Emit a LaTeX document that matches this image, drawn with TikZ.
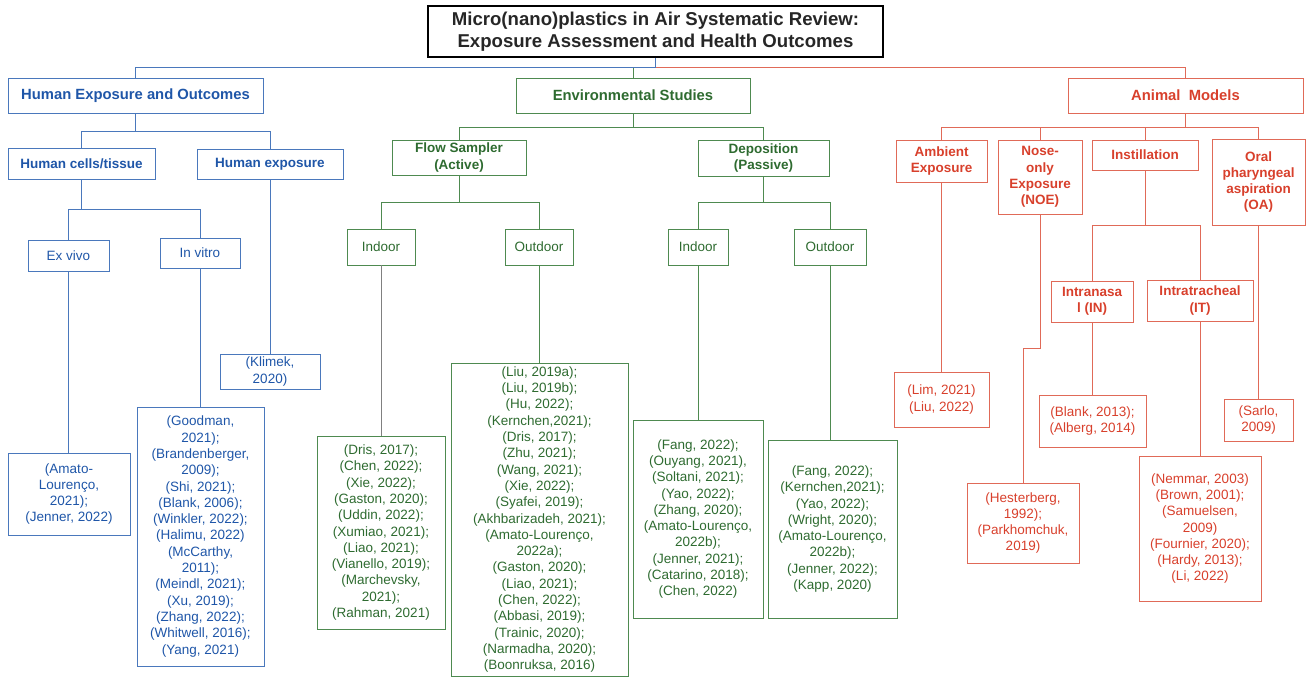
\documentclass[tikz,border=0pt]{standalone}
\usepackage{fontspec}
\setmainfont{Liberation Sans}
\usetikzlibrary{calc}
\definecolor{btxt}{HTML}{1F56A8}
\definecolor{bln}{HTML}{4A78BC}
\definecolor{gtxt}{HTML}{2E6B30}
\definecolor{gln}{HTML}{4E8A50}
\definecolor{rtxt}{HTML}{D8402C}
\definecolor{rln}{HTML}{E06A58}
\newcommand\bx[7]{\node[#1, minimum width={(#5-#3)*1pt}, minimum height={(#6-#4)*1pt}] (#2) at ({(#3+#5)/2},{(#4+#6)/2}) {#7};}
\tikzset{
  box/.style={draw, rectangle, inner sep=0pt, align=center, line width=0.8pt},
  fL/.style={font=\bfseries\fontsize{14.8}{17}\selectfont},
  fM/.style={font=\bfseries\fontsize{13.5}{16.3}\selectfont},
  fR/.style={font=\fontsize{13.5}{16.3}\selectfont},
  fS/.style={font=\fontsize{13.5}{16.3}\selectfont},
  bbox/.style={box, draw=bln, text=btxt},
  gbox/.style={box, draw=gln, text=gtxt},
  rbox/.style={box, draw=rln, text=rtxt},
  bline/.style={draw=bln, line width=0.8pt},
  gline/.style={draw=gln, line width=0.8pt},
  rline/.style={draw=rln, line width=0.8pt},
}
\begin{document}
\begin{tikzpicture}[x=1pt,y=-1pt]
\useasboundingbox (0,0) rectangle (1306,680);
% title
\bx{box, draw=black, line width=1.6pt, font=\bfseries\fontsize{18.6}{22}\selectfont, text=black!85}{title}{428}{6}{883}{57}{Micro(nano)plastics in Air Systematic Review:\\Exposure Assessment and Health Outcomes}
% level 1
\bx{bbox, fL}{heo}{8}{78}{263}{113}{Human Exposure and Outcomes}
\bx{gbox, fL}{env}{516}{78}{750}{113}{Environmental Studies}
\bx{rbox, fL}{am}{1068}{78}{1303}{113}{Animal \ Models}
% blue
\bx{bbox, fM}{hct}{8}{148}{155}{179}{Human cells/tissue}
\bx{bbox, fM}{hex}{197}{149}{343}{179}{Human exposure}
\bx{bbox, fS}{exv}{28}{240}{109}{271}{Ex vivo}
\bx{bbox, fS}{inv}{160}{238}{240}{268}{In vitro}
\bx{bbox, fR}{klimek}{220}{354}{320}{389}{(Klimek,\\2020)}
\bx{bbox, fR}{amato}{8}{453}{130}{535}{(Amato-\\Lourenço,\\2021);\\(Jenner, 2022)}
\bx{bbox, fR}{invr}{137}{407}{264}{666}{(Goodman,\\2021);\\(Brandenberger,\\2009);\\(Shi, 2021);\\(Blank, 2006);\\(Winkler, 2022);\\(Halimu, 2022)\\(McCarthy,\\2011);\\(Meindl, 2021);\\(Xu, 2019);\\(Zhang, 2022);\\(Whitwell, 2016);\\(Yang, 2021)}
% green
\bx{gbox, fM}{flow}{392}{140}{526}{175}{Flow Sampler\\(Active)}
\bx{gbox, fM}{dep}{698}{140}{829}{176}{Deposition\\(Passive)}
\bx{gbox, fS}{in1}{347}{229}{415}{265}{Indoor}
\bx{gbox, fS}{out1}{505}{229}{573}{265}{Outdoor}
\bx{gbox, fS}{in2}{668}{229}{728}{265}{Indoor}
\bx{gbox, fS}{out2}{794}{229}{866}{265}{Outdoor}
\bx{gbox, fR}{in1r}{317}{436}{445}{629}{(Dris, 2017);\\(Chen, 2022);\\(Xie, 2022);\\(Gaston, 2020);\\(Uddin, 2022);\\(Xumiao, 2021);\\(Liao, 2021);\\(Vianello, 2019);\\(Marchevsky,\\2021);\\(Rahman, 2021)}
\bx{gbox, fR}{out1r}{451}{363}{628}{676}{(Liu, 2019a);\\(Liu, 2019b);\\(Hu, 2022);\\(Kernchen,2021);\\(Dris, 2017);\\(Zhu, 2021);\\(Wang, 2021);\\(Xie, 2022);\\(Syafei, 2019);\\(Akhbarizadeh, 2021);\\(Amato-Lourenço,\\2022a);\\(Gaston, 2020);\\(Liao, 2021);\\(Chen, 2022);\\(Abbasi, 2019);\\(Trainic, 2020);\\(Narmadha, 2020);\\(Boonruksa, 2016)}
\bx{gbox, fR}{in2r}{633}{420}{763}{618}{(Fang, 2022);\\(Ouyang, 2021),\\(Soltani, 2021);\\(Yao, 2022);\\(Zhang, 2020);\\(Amato-Lourenço,\\2022b);\\(Jenner, 2021);\\(Catarino, 2018);\\(Chen, 2022)}
\bx{gbox, fR}{out2r}{768}{440}{897}{618}{(Fang, 2022);\\(Kernchen,2021);\\(Yao, 2022);\\(Wright, 2020);\\(Amato-Lourenço,\\2022b);\\(Jenner, 2022);\\(Kapp, 2020)}
% red
\bx{rbox, fM}{amb}{896}{140}{987}{182}{Ambient\\Exposure}
\bx{rbox, fM}{noe}{998}{140}{1082}{214}{Nose-\\only\\Exposure\\(NOE)}
\bx{rbox, fM}{inst}{1092}{140}{1198}{170}{Instillation}
\bx{rbox, fM}{oa}{1212}{139}{1305}{225}{Oral\\pharyngeal\\aspiration\\(OA)}
\bx{rbox, fM}{inn}{1051}{281}{1133}{322}{Intranasa\\l (IN)}
\bx{rbox, fM}{itr}{1147}{280}{1253}{321}{Intratracheal\\(IT)}
\bx{rbox, fR}{ambr}{894}{372}{989}{427}{(Lim, 2021)\\(Liu, 2022)}
\bx{rbox, fR}{hest}{967}{483}{1079}{563}{(Hesterberg,\\1992);\\(Parkhomchuk,\\2019)}
\bx{rbox, fR}{innr}{1039}{395}{1146}{447}{(Blank, 2013);\\(Alberg, 2014)}
\bx{rbox, fR}{itrr}{1139}{456}{1261}{601}{(Nemmar, 2003)\\(Brown, 2001);\\(Samuelsen,\\2009)\\(Fournier, 2020);\\(Hardy, 2013);\\(Li, 2022)}
\bx{rbox, fR}{sarlo}{1224}{399}{1293}{441}{(Sarlo,\\2009)}
% connectors top
\coordinate (tj) at ($(title.south)+(0,10)$);
\draw[bline] (title.south) -- (tj) -| (heo.north);
\draw[rline] (tj) -| (am.north);
\draw[gline] (env.north) -- (env.north |- tj);
% blue connectors
\coordinate (bj1) at ($(heo.south)+(0,18)$);
\draw[bline] (heo.south) -- (bj1) -| (hct.north);
\draw[bline] (bj1) -| (hex.north);
\coordinate (bj2) at ($(hct.south)+(0,30)$);
\draw[bline] (hct.south) -- (bj2) -| (exv.north);
\draw[bline] (bj2) -| (inv.north);
\draw[bline] (exv.south) -- (exv.south |- amato.north);
\draw[bline] (inv.south) -- (inv.south |- invr.north);
\draw[bline] (hex.south) -- (hex.south |- klimek.north);
% green connectors
\coordinate (gj1) at ($(env.south)+(0,14)$);
\draw[gline] (env.south) -- (gj1) -| (flow.north);
\draw[gline] (gj1) -| (dep.north);
\coordinate (gj2) at ($(flow.south)+(0,27)$);
\draw[gline] (flow.south) -- (gj2) -| (in1.north);
\draw[gline] (gj2) -| (out1.north);
\coordinate (gj3) at ($(dep.south)+(0,26)$);
\draw[gline] (dep.south) -- (gj3) -| (in2.north);
\draw[gline] (gj3) -| (out2.north);
\draw[draw=gray, line width=0.8pt] (in1.south) -- (in1.south |- in1r.north);
\draw[gline] (out1.south) -- (out1.south |- out1r.north);
\draw[gline] (in2.south) -- (in2.south |- in2r.north);
\draw[gline] (out2.south) -- (out2.south |- out2r.north);
% red connectors
\coordinate (rj1) at ($(am.south)+(0,14)$);
\draw[rline] (am.south) -- (rj1) -| (amb.north);
\draw[rline] (rj1) -| (noe.north);
\draw[rline] (rj1) -| (inst.north);
\draw[rline] (rj1) -| (oa.north);
\coordinate (rj2) at ($(inst.south)+(0,55)$);
\draw[rline] (inst.south) -- (rj2) -| (inn.north);
\draw[rline] (rj2) -| (itr.north);
\draw[rline] (amb.south) -- (amb.south |- ambr.north);
\coordinate (rj3) at ($(noe.south)+(0,134)$);
\draw[rline] (noe.south) -- (rj3) -| (hest.north);
\draw[rline] (inn.south) -- (inn.south |- innr.north);
\draw[rline] (itr.south) -- (itr.south |- itrr.north);
\draw[rline] (oa.south) -- (oa.south |- sarlo.north);
\end{tikzpicture}
\end{document}
